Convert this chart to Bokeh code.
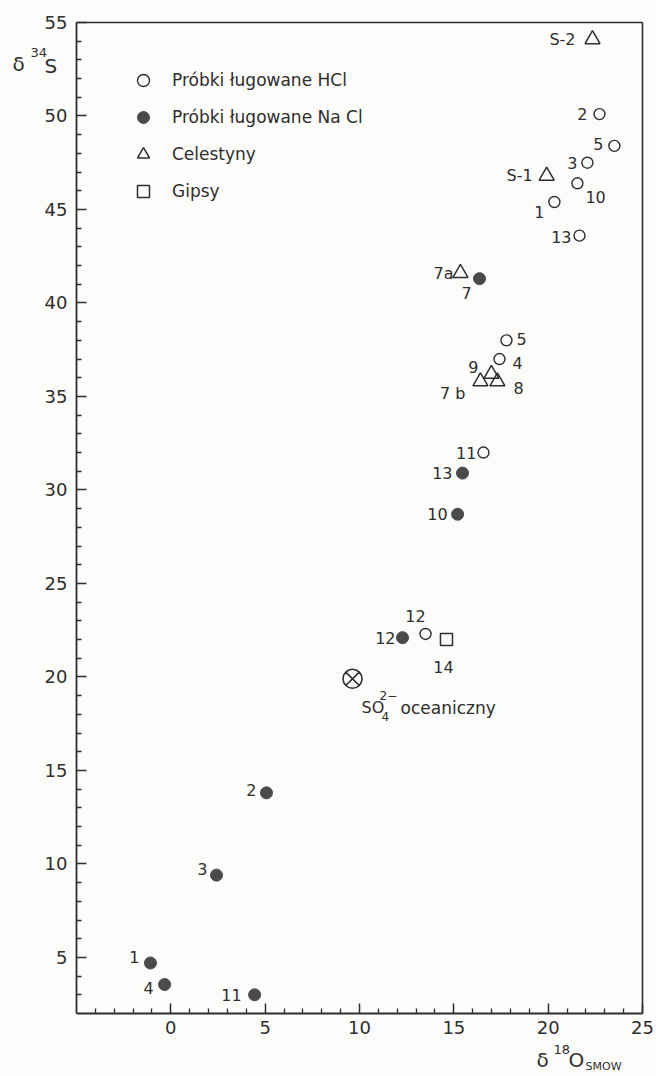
from bokeh.plotting import figure
from bokeh.models import (ColumnDataSource, FixedTicker, Legend, LegendItem, Label,
                          LinearAxis)
from bokeh.core.properties import value, field
from bokeh.embed import file_html
from bokeh.resources import INLINE

# ---------------- data ----------------
hcl_labels = ["1", "2", "3", "4", "5", "5", "10", "11", "12", "13"]
hcl_x = [20.33, 22.72, 22.08, 17.42, 23.51, 17.79, 21.55, 16.57, 13.50, 21.66]
hcl_y = [45.4, 50.1, 47.5, 37.0, 48.4, 38.0, 46.4, 32.0, 22.3, 43.6]

nacl_labels = ["1", "2", "3", "4", "7", "10", "11", "12", "13"]
nacl_x = [-1.08, 5.07, 2.42, -0.33, 16.36, 15.20, 4.44, 12.28, 15.46]
nacl_y = [4.7, 13.8, 9.4, 3.55, 41.3, 28.7, 3.0, 22.1, 30.9]

cel_labels = ["S-1", "S-2", "7a", "7 b", "8", "9"]
cel_x = [19.92, 22.35, 15.35, 16.41, 17.31, 16.99]
cel_y = [46.8, 54.1, 41.6, 35.8, 35.8, 36.2]

gyp_labels = ["14"]
gyp_x = [14.61]
gyp_y = [22.0]

ocean_x = [9.63]
ocean_y = [19.9]

legend_labels = ["Próbki ługowane HCl", "Próbki ługowane Na Cl", "Celestyny", "Gipsy"]

x_ticks = [0, 5, 10, 15, 20, 25]
y_ticks = [5, 10, 15, 20, 25, 30, 35, 40, 45, 50, 55]
X_LO, X_HI = -5, 25
Y_LO, Y_HI = 2, 55

# ---------------- label placement (style only) ----------------
hcl_dx = [-10, -12, -10, 13, -11, 10, 8, -7, -10, -8]
hcl_dy = [10, 0, 0, 4, -2, -1, 14, 0, -18, 1]
hcl_al = ["right", "right", "right", "left", "right", "left", "left", "right", "center", "right"]

nacl_dx = [-11, -10, -9, -11, -13, -10, -13, -7, -10]
nacl_dy = [-6, -3, -6, 3, 14, 0, 0, 0, 0]
nacl_al = ["right", "right", "right", "right", "center", "right", "right", "right", "right"]

cel_dx = [-14, -17, -7, -15, 16, -13]
cel_dy = [0, 0, 0, 12, 6, -7]
cel_al = ["right", "right", "right", "right", "left", "right"]

gyp_dx = [-3]
gyp_dy = [27]
gyp_al = ["center"]

FNAME = "DejaVu Sans"
FONT = value(FNAME)
INK = "#2e2e2e"
FILL = "#4a4a4a"
BG = "#fcfcfa"

W, H = 656, 1076
# pixel placement of the plotting box inside the canvas
BOX_L, BOX_R, BOX_T, BOX_B = 76, 642, 22, 1013
xs = (BOX_R - BOX_L) / (X_HI - X_LO)
ys = (BOX_B - BOX_T) / (Y_HI - Y_LO)
x_range = (X_LO - BOX_L / xs, X_HI + (W - BOX_R) / xs)
y_range = (Y_LO - (H - BOX_B) / ys, Y_HI + BOX_T / ys)

p = figure(width=W, height=H, output_backend="svg", toolbar_location=None,
           x_range=x_range, y_range=y_range, min_border=0,
           x_axis_location="below", y_axis_location="left")
p.background_fill_color = BG
p.border_fill_color = BG
p.grid.visible = False
p.outline_line_color = None

xa = p.below[0]
ya = p.left[0]
xa.fixed_location = Y_LO
ya.fixed_location = X_LO
xa.bounds = (X_LO, X_HI)
ya.bounds = (Y_LO, Y_HI)
minor_x = [v for v in range(X_LO + 1, X_HI) if v % 5 != 0]
minor_y = [v for v in range(Y_LO + 1, Y_HI) if v % 5 != 0]
xa.ticker = FixedTicker(ticks=x_ticks, minor_ticks=minor_x)
ya.ticker = FixedTicker(ticks=y_ticks, minor_ticks=minor_y)
for ax in (xa, ya):
    ax.axis_line_color = INK
    ax.axis_line_width = 1.8
    ax.major_tick_line_color = INK
    ax.minor_tick_line_color = INK
    ax.major_tick_line_width = 1.5
    ax.minor_tick_line_width = 1.3
    ax.major_tick_in = 10
    ax.major_tick_out = 0
    ax.minor_tick_in = 5
    ax.minor_tick_out = 0
    ax.major_label_text_font = FNAME
    ax.major_label_text_font_size = "18px"
    ax.major_label_text_color = INK
xa.major_label_standoff = 7
ya.major_label_standoff = 9

# top and right edges of the box
top_ax = LinearAxis(fixed_location=Y_HI, bounds=(X_LO, X_HI), ticker=FixedTicker(ticks=[]),
                    major_tick_in=0, major_tick_out=0, minor_tick_in=0, minor_tick_out=0,
                    axis_line_color=INK, axis_line_width=1.6, major_label_text_alpha=0)
right_ax = LinearAxis(fixed_location=X_HI, bounds=(Y_LO, Y_HI), ticker=FixedTicker(ticks=[]),
                      major_tick_in=0, major_tick_out=0, minor_tick_in=0, minor_tick_out=0,
                      axis_line_color=INK, axis_line_width=1.6, major_label_text_alpha=0)
p.add_layout(top_ax, "above")
p.add_layout(right_ax, "right")


def src(xv, yv, labels, dx, dy, al):
    return ColumnDataSource(dict(x=xv, y=yv, label=labels, dx=dx, dy=dy, align=al))


s_hcl = src(hcl_x, hcl_y, hcl_labels, hcl_dx, hcl_dy, hcl_al)
s_nacl = src(nacl_x, nacl_y, nacl_labels, nacl_dx, nacl_dy, nacl_al)
s_cel = src(cel_x, cel_y, cel_labels, cel_dx, cel_dy, cel_al)
s_gyp = src(gyp_x, gyp_y, gyp_labels, gyp_dx, gyp_dy, gyp_al)

r_hcl = p.scatter("x", "y", source=s_hcl, marker="circle", size=11,
                  fill_color=None, line_color=INK, line_width=1.4)
r_nacl = p.scatter("x", "y", source=s_nacl, marker="circle", size=12,
                   fill_color=FILL, line_color=FILL, line_width=1)
r_cel = p.scatter("x", "y", source=s_cel, marker="triangle", size=15,
                  fill_color=None, line_color=INK, line_width=1.5)
r_gyp = p.scatter("x", "y", source=s_gyp, marker="square", size=12,
                  fill_color=None, line_color=INK, line_width=1.5)
p.scatter(ocean_x, ocean_y, marker="circle_x", size=19, fill_color=None,
          line_color=INK, line_width=1.6)

for s in (s_hcl, s_nacl, s_cel, s_gyp):
    p.text("x", "y", text="label", source=s, x_offset="dx", y_offset="dy",
           text_align=field("align"), text_baseline="middle",
           text_font=FONT, text_font_size="16px", text_color=INK)

# oceanic sulphate annotation
ocean_src = ColumnDataSource(dict(x=ocean_x, y=ocean_y))
for txt, dx, dy, fs in [("SO", 9, 29, "16px"), ("2−", 27, 17, "12px"),
                        ("4", 29, 38, "12px"), ("oceaniczny", 48, 29, "17px")]:
    p.text("x", "y", text=value(txt), source=ocean_src, x_offset=dx, y_offset=dy,
           text_align="left", text_baseline="alphabetic",
           text_font=FONT, text_font_size=fs, text_color=INK)

legend = Legend(items=[LegendItem(label=legend_labels[0], renderers=[r_hcl]),
                       LegendItem(label=legend_labels[1], renderers=[r_nacl]),
                       LegendItem(label=legend_labels[2], renderers=[r_cel]),
                       LegendItem(label=legend_labels[3], renderers=[r_gyp])],
                location=(128, H - 206), glyph_width=30, glyph_height=30, label_height=30,
                spacing=7, padding=0, margin=0, label_standoff=14,
                border_line_alpha=0, background_fill_alpha=0,
                label_text_font=FNAME, label_text_font_size="17px",
                label_text_color=INK)
p.add_layout(legend)

# axis titles (screen pixels, measured from the canvas bottom-left)
for txt, x, y, fs in [("δ", 12, H - 63, "20px"), ("34", 30, H - 52, "13px"), ("S", 44, H - 65, "20px"),
                      ("δ", 536, H - 1059, "20px"), ("18", 553, H - 1049, "13px"),
                      ("O", 568, H - 1059, "20px"), ("SMOW", 585, H - 1066, "11px")]:
    p.add_layout(Label(x=x, y=y, x_units="screen", y_units="screen", text=txt,
                       text_font=FNAME, text_font_size=fs, text_color=INK,
                       text_baseline="alphabetic", text_align="left"))

open("out.html", "w").write(file_html(p, INLINE))
